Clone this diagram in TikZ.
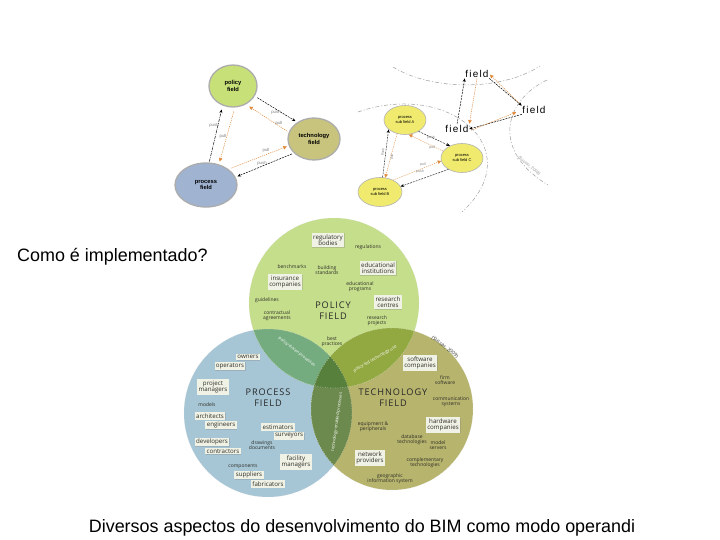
\documentclass[tikz,border=0pt]{standalone}
\usepackage{fontspec}
\setmainfont{Liberation Sans}
\newfontfamily\venn{Open Sans}
\usetikzlibrary{shapes.geometric,arrows.meta,shadows}
\definecolor{tlpol}{HTML}{C8E078}
\definecolor{tltec}{HTML}{C8C37D}
\definecolor{tlpro}{HTML}{A0B4D2}
\definecolor{subyel}{HTML}{F0EB6E}
\definecolor{pullc}{HTML}{E08A3C}
\definecolor{vpol}{HTML}{C5DE8C}
\definecolor{vpro}{HTML}{A6C6D6}
\definecolor{vtec}{HTML}{B7B46E}
\definecolor{vpolpro}{HTML}{74AC80}
\definecolor{vpoltec}{HTML}{92A840}
\definecolor{vprotec}{HTML}{6C8A4E}
\definecolor{vall}{HTML}{56803C}
\definecolor{boxfill}{HTML}{F1F2E6}
\definecolor{vtext}{HTML}{2E2E26}
\begin{document}
\begin{tikzpicture}[x=1bp,y=-1bp,
  tlfield/.style={ellipse, draw=gray!65, line width=1.3pt, font=\fontsize{5.8}{6.5}\selectfont\bfseries, align=center, inner sep=0pt},
  pusha/.style={dash pattern=on 2pt off 1pt, black, line width=0.5pt, -{Stealth[length=3.5pt,width=3pt]}},
  pulla/.style={dash pattern=on 1.2pt off 1pt, pullc, line width=0.5pt, -{Triangle[length=3.5pt,width=3.5pt]}},
  lab/.style={font=\fontsize{4.3}{5}\selectfont, text=gray, inner sep=0pt},
  subf/.style={ellipse, fill=subyel, draw=gray!60, line width=0.6pt, font=\fontsize{4}{4.6}\selectfont, align=center, inner sep=0pt, minimum width=42bp, minimum height=29bp},
  fieldtxt/.style={font=\fontsize{10}{11}\selectfont\addfontfeature{LetterSpace=12}, inner sep=0.5pt},
  arcline/.style={gray!75, dash pattern=on 4pt off 2pt on 1pt off 2pt, line width=0.5pt},
  vbox/.style={fill=boxfill, font=\venn\fontsize{6.2}{6.6}\selectfont, text=vtext, align=center, inner sep=1.4pt, drop shadow={opacity=0.3, shadow xshift=0.5pt, shadow yshift=-0.5pt}},
  vtxt/.style={font=\venn\fontsize{5}{5.4}\selectfont, text=vtext, align=center, inner sep=0.3pt},
  vbig/.style={font=\venn\fontsize{9.2}{10}\selectfont\addfontfeature{LetterSpace=10}, text=black!85, inner sep=0pt},
  vcurve/.style={font=\venn\fontsize{4.2}{5}\selectfont, text=white, inner sep=0pt},
  slide/.style={font=\fontsize{18}{21}\selectfont, inner sep=0pt}]
\useasboundingbox (0,0) rectangle (720,540);
\fill[white] (0,0) rectangle (720,540);

% ---------- top-left diagram ----------
\node[tlfield, fill=tlpol, minimum width=48bp, minimum height=42bp] (pol) at (233,86) {policy\\field};
\node[tlfield, fill=tltec, minimum width=52bp, minimum height=42bp] (tec) at (314,139) {technology\\field};
\node[tlfield, fill=tlpro, minimum width=62bp, minimum height=44bp] (prc) at (206,185) {process\\field};
\draw[pusha, shorten <=3pt, shorten >=2pt] (pol.-25) -- (tec.135);
\draw[pulla, shorten <=2pt, shorten >=4pt] (tec.165) -- (pol.-55);
\draw[pusha, dash pattern=on 3pt off 1pt on 0.8pt off 1pt, shorten <=1pt, shorten >=4pt] (prc.82) -- (pol.-118);
\draw[pulla, shorten <=4pt, shorten >=3pt] (pol.-85) -- (prc.58);
\draw[pulla, shorten <=3pt, shorten >=2pt] (prc.35) -- (tec.-165);
\draw[pusha, shorten <=2pt, shorten >=2pt] (tec.-145) -- (prc.15);
\node[lab] (l1) at (276,112) {push};
\node[lab] (l2) at (279,123) {pull};
\node[lab] (l3) at (214,125) {push};
\node[lab] (l4) at (223,136) {pull};
\node[lab] (l5) at (266,150) {pull};
\node[lab] (l6) at (262,163) {push};

% ---------- top-right diagram ----------
\draw[arcline] (393,67) .. controls (430,90) and (500,92) .. (540,66);
\draw[arcline] (547,80) .. controls (505,100) and (490,150) .. (548,185);
\draw[arcline] (358,112) .. controls (450,80) and (530,150) .. (462,212);
\node[fieldtxt] (ftop) at (477,74) {field};
\node[fieldtxt] (fright) at (534,110) {field};
\node[fieldtxt] (fmid) at (457,129) {field};
\draw[pusha, shorten <=1pt] (fmid.north) -- (ftop.south west);
\draw[pulla, shorten >=1pt] (ftop.south) -- (fmid.north east);
\draw[pusha] (ftop.south east) -- (fright.north west);
\draw[pulla, shorten <=4pt, shorten >=1pt] (fright.north west) -- (ftop.east);
\draw[pusha] (fright.south west) -- (fmid.east);
\draw[pulla, shorten <=2pt, shorten >=6pt] ([yshift=-2bp]fmid.east) -- (fright.west);
\node[lab, text=gray!80, rotate=-39] (cit1) at (529,166) {(Succar, 2008)};

\node[subf] (sa) at (405,120) {process\\sub field A};
\node[subf] (sc) at (462,158) {process\\sub field C};
\node[subf, minimum width=44bp] (sb) at (380,192) {process\\sub field B};
\draw[pusha, line width=0.4pt] (sa.-40) -- (sc.135);
\draw[pulla, line width=0.4pt] (sc.160) -- (sa.-75);
\draw[pusha, line width=0.4pt] (sb.80) -- (sa.-150);
\draw[pulla, line width=0.4pt] (sa.-120) -- (sb.70);
\draw[pulla, line width=0.4pt] (sb.42) -- (sc.-172);
\draw[pusha, line width=0.4pt] (sc.-140) -- (sb.15);
\node[lab, font=\fontsize{3.5}{4}\selectfont] (m1) at (431,138) {push};
\node[lab, font=\fontsize{3.5}{4}\selectfont] (m2) at (432,148) {pull};
\node[lab, font=\fontsize{3.5}{4}\selectfont, rotate=80] (m3) at (383,152) {push};
\node[lab, font=\fontsize{3.5}{4}\selectfont, rotate=80] (m4) at (392,157) {pull};
\node[lab, font=\fontsize{3.5}{4}\selectfont] (m5) at (423,165) {pull};
\node[lab, font=\fontsize{3.5}{4}\selectfont] (m6) at (420,172) {push};

% ---------- slide texts ----------
\node[slide, anchor=west] (q) at (17,257) {Como é implementado?};
\node[slide] (cap) at (362,528) {Diversos aspectos do desenvolvimento do BIM como modo operandi};

% ---------- Venn diagram ----------
\coordinate (Cpol) at (334,303);
\coordinate (Cpro) at (268,413);
\coordinate (Ctec) at (392,409);
\fill[vpro] (Cpro) circle[radius=84];
\fill[vtec] (Ctec) circle[radius=81];
\fill[vpol] (Cpol) circle[radius=85];
\begin{scope}
  \clip (Cpol) circle[radius=85];
  \fill[vpolpro] (Cpro) circle[radius=84];
  \fill[vpoltec] (Ctec) circle[radius=81];
\end{scope}
\begin{scope}
  \clip (Cpro) circle[radius=84];
  \fill[vprotec] (Ctec) circle[radius=81];
  \clip (Ctec) circle[radius=81];
  \fill[vall] (Cpol) circle[radius=85];
\end{scope}
\draw[white!70!gray, line width=0.5pt, dotted] (Cpro) circle[radius=84];
\draw[white!70!gray, line width=0.5pt, dotted] (Ctec) circle[radius=81];
\draw[white!70!gray, line width=0.5pt, dotted] (Cpol) circle[radius=85];

% policy field
\node[vbox] (rb) at (328,240) {regulatory\\bodies};
\node[vtxt] (rg) at (368,247) {regulations};
\node[vtxt] (bm) at (292,267) {benchmarks};
\node[vtxt] (bs) at (327,270) {building\\standards};
\node[vbox] (ei) at (378,268) {educational\\institutions};
\node[vbox] (ic) at (285,282) {insurance\\companies};
\node[vtxt] (ep) at (360,287) {educational\\programs};
\node[vtxt] (gl) at (267,300) {guidelines};
\node[vbig] (pf1) at (333,305) {POLICY};
\node[vbig] (pf2) at (333,316) {FIELD};
\node[vbox] (rc) at (388,302) {research\\centres};
\node[vtxt] (ca) at (277,316) {contractual\\agreements};
\node[vtxt] (rp) at (377,321) {research\\projects};
\node[vtxt] (bp) at (332,342) {best\\practices};

% process field
\node[vbox] (ow) at (248,357) {owners};
\node[vbox] (op) at (230,366) {operators};
\node[vbox] (pm) at (213,387) {project\\managers};
\node[vbig] (rf1) at (268,392) {PROCESS};
\node[vbig] (rf2) at (268,403) {FIELD};
\node[vtxt] (md) at (207,405) {models};
\node[vbox] (ar) at (210,416) {architects};
\node[vbox] (en) at (221,425) {engineers};
\node[vbox] (es) at (278,427) {estimators};
\node[vbox] (sv) at (289,436) {surveyors};
\node[vbox] (dv) at (212,442) {developers};
\node[vbox] (ct) at (223,451) {contractors};
\node[vtxt] (dd) at (262,445) {drawings\\documents};
\node[vbox] (fm) at (296,462) {facility\\managers};
\node[vtxt] (cp) at (243,466) {components};
\node[vbox] (su) at (249,475) {suppliers};
\node[vbox] (fb) at (268,484) {fabricators};

% technology field
\node[vbox] (sw) at (420,363) {software\\companies};
\node[vtxt] (fs) at (445,380) {firm\\software};
\node[vbig] (tf1) at (393,392) {TECHNOLOGY};
\node[vbig] (tf2) at (393,403) {FIELD};
\node[vtxt] (cs) at (451,402) {communication\\systems};
\node[vbox] (hw) at (443,425) {hardware\\companies};
\node[vtxt] (eq) at (373,427) {equipment \&\\peripherals};
\node[vtxt] (db) at (412,440) {database\\technologies};
\node[vtxt] (ms) at (438,445) {model\\servers};
\node[vbox] (np) at (370,458) {network\\providers};
\node[vtxt] (ct2) at (425,463) {complementary\\technologies};
\node[vtxt] (gi) at (390,479) {geographic\\information system};

% overlap labels
\node[vcurve, rotate=-38] (cv1) at (297,352) {policy-driven processes};
\node[vcurve, rotate=30] (cv2) at (375,359) {policy-led technology use};
\node[vcurve, rotate=82] (cv3) at (337,422) {technology-enabled processes};
\node[vtxt, rotate=-38] (cit2) at (445,347) {(Succar, 2009)};
\end{tikzpicture}
\end{document}
